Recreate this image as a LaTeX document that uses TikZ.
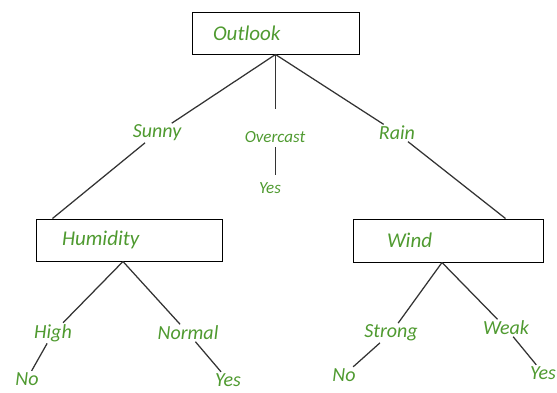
\documentclass[tikz,border=0pt]{standalone}
\usepackage{fontspec}
\setmainfont{Carlito}
\usepackage{tikz}
\definecolor{labelgreen}{HTML}{4F9A30}
\definecolor{edgegrey}{HTML}{333333}
\tikzset{
  box/.style={
    draw=black, line width=1pt, align=left, minimum height=42pt,
    inner ysep=2pt, font=\fontsize{21}{24}\selectfont\itshape, text=labelgreen,
  },
  lbl/.style={font=\fontsize{20}{24}\selectfont\itshape, text=labelgreen, inner sep=1.5pt},
  smalllbl/.style={lbl, font=\fontsize{17}{20}\selectfont\itshape},
  edge/.style={draw=edgegrey, line width=1.25pt},
}

\begin{document}
\begin{tikzpicture}[x=1pt, y=-1pt]
\useasboundingbox (0,0) rectangle (557,392);

% decision nodes
\node[box, inner xsep=21pt, text width=125pt] (outlook) at (275.5,33) {Outlook};
\node[box, inner xsep=26pt, text width=134pt] (humidity) at (129,240) {Humidity};
\node[box, inner xsep=34pt, text width=122pt, minimum height=43pt] (wind) at (448,240.5) {Wind};

% branch values
\node[lbl] (sunny) at (157,133) {Sunny};
\node[smalllbl] (overcast) at (275,137) {Overcast};
\node[lbl] (rain) at (397,133) {Rain};
\node[lbl] (high) at (53,333) {High};
\node[lbl] (normal) at (188,333) {Normal};
\node[lbl] (strong) at (391,333) {Strong};
\node[lbl] (weak) at (506,328) {Weak};

% leaves
\node[smalllbl] (yesmid) at (270,188) {Yes};
\node[lbl] (nohigh) at (27,379) {No};
\node[lbl] (yesnormal) at (228,380) {Yes};
\node[lbl] (nostrong) at (344,375) {No};
\node[lbl] (yesweak) at (543,373) {Yes};

% edges
\draw[edge] (outlook.south) -- (sunny) -- ([xshift=17pt]humidity.north west);
\draw[edge, shorten >=21pt] (outlook.south) -- (outlook.south |- overcast.north);
\draw[edge, shorten <=3pt, shorten >=6pt] (overcast.south -| outlook.south) -- (outlook.south |- yesmid.north);
\draw[edge] (outlook.south) -- (rain) -- ([xshift=-38pt]wind.north east);

\draw[edge] ([xshift=-6pt]humidity.south) -- (high) -- (nohigh);
\draw[edge] ([xshift=-6pt]humidity.south) -- (normal) -- (yesnormal);
\draw[edge] ([xshift=-6pt]wind.south) -- (strong) -- (nostrong);
\draw[edge] ([xshift=-6pt]wind.south) -- (weak) -- (yesweak);

\end{tikzpicture}
\end{document}
